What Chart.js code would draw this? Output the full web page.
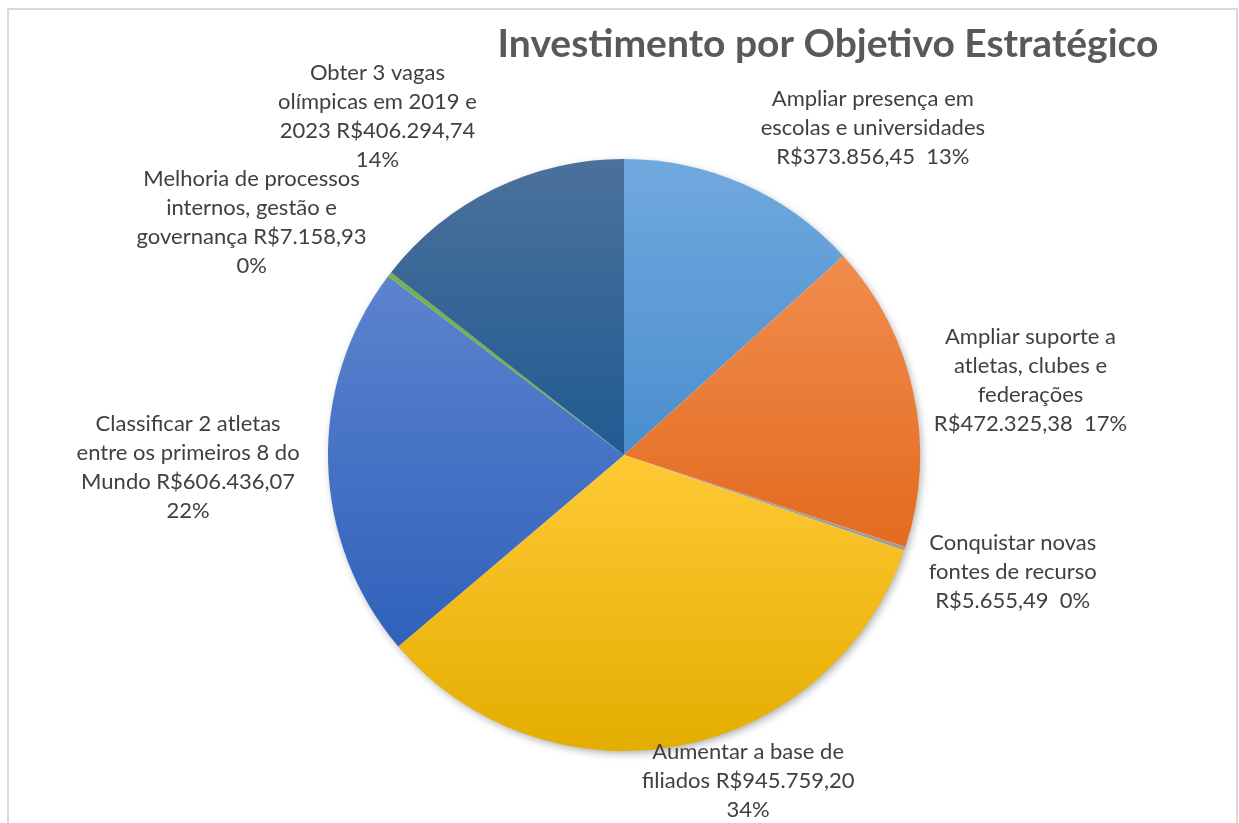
<!DOCTYPE html>
<html lang="pt-BR">
<head>
<meta charset="utf-8">
<title>Investimento por Objetivo Estratégico</title>
<script src="https://cdn.jsdelivr.net/npm/chart.js@4.4.1/dist/chart.umd.min.js"></script>
<style>
  html, body { margin: 0; padding: 0; background: #fff; }
  #wrap { width: 1239px; height: 823px; }
</style>
</head>
<body>
<div id="wrap"><canvas id="pieChart" width="1239" height="823"></canvas></div>
<script>
const chartTitle = "Investimento por Objetivo Estratégico";

const categories = [
  "Ampliar presença em escolas e universidades",
  "Ampliar suporte a atletas, clubes e federações",
  "Conquistar novas fontes de recurso",
  "Aumentar a base de filiados",
  "Classificar 2 atletas entre os primeiros 8 do Mundo",
  "Melhoria de processos internos, gestão e governança",
  "Obter 3 vagas olímpicas em 2019 e 2023",
];
const values = [373856.45, 472325.38, 5655.49, 945759.2, 606436.07, 7158.93, 406294.74];

// data label text, wrapped the way the original shows it
const labelLines = [
  ["Ampliar presença em", "escolas e universidades", "R$373.856,45  13%"],
  ["Ampliar suporte a", "atletas, clubes e", "federações", "R$472.325,38  17%"],
  ["Conquistar novas", "fontes de recurso", "R$5.655,49  0%"],
  ["Aumentar a base de", "filiados R$945.759,20", "34%"],
  ["Classificar 2 atletas", "entre os primeiros 8 do", "Mundo R$606.436,07", "22%"],
  ["Melhoria de processos", "internos, gestão e", "governança R$7.158,93", "0%"],
  ["Obter 3 vagas", "olímpicas em 2019 e", "2023 R$406.294,74", "14%"],
];

// gradient colours per slice: [stop, colour, stop, colour]
const sliceFills = [
  [0.0, "#70a9de", 0.5, "#4a8ecf"],
  [0.15, "#f18d50", 0.68, "#e2691b"],
  [0.5, "#a5a5a5", 0.7, "#9a9a9a"],
  [0.5, "#ffc935", 1.0, "#e4ad00"],
  [0.2, "#5c83ce", 0.83, "#2f61ba"],
  [0.3, "#76b24c", 0.5, "#6aa842"],
  [0.0, "#4b719b", 0.5, "#1f5b92"],
];

// where each label block sits, relative to the outer edge of its slice
const labelOffsets = [[129, -56], [117, -13], [108, 23], [69, 35], [-140, 4], [-138, -52], [-117, -72]];

const labelFont = "22px Lato";
const labelLineHeight = 29;

const sliceColor = (context) => {
  const chart = context.chart;
  const area = chart.chartArea;
  const f = sliceFills[context.dataIndex];
  if (!area) return f[1];
  const g = chart.ctx.createLinearGradient(0, area.top, 0, area.bottom);
  g.addColorStop(f[0], f[1]);
  g.addColorStop(f[2], f[3]);
  return g;
};

const framePlugin = {
  id: "frame",
  beforeDraw: (chart) => {
    const c = chart.ctx;
    c.save();
    c.fillStyle = "#ffffff";
    c.fillRect(0, 0, chart.width, chart.height);
    c.strokeStyle = "#d9d9d9";
    c.lineWidth = 2;
    c.strokeRect(8, 9, chart.width - 10, chart.height + 20);
    c.restore();
  },
};

const shadowPlugin = {
  id: "pieShadow",
  beforeDatasetsDraw: (chart) => {
    const arc = chart.getDatasetMeta(0).data[0];
    if (!arc) return;
    const c = chart.ctx;
    c.save();
    c.shadowColor = "rgba(0,0,0,0.35)";
    c.shadowBlur = 9;
    c.shadowOffsetX = 2;
    c.shadowOffsetY = 3;
    c.fillStyle = "#ffffff";
    c.beginPath();
    c.arc(arc.x, arc.y, arc.outerRadius - 1, 0, Math.PI * 2);
    c.fill();
    c.restore();
  },
};

const textPlugin = {
  id: "texts",
  afterDatasetsDraw: (chart) => {
    const c = chart.ctx;
    c.save();
    c.fillStyle = "#595959";
    c.font = "bold 39px Lato";
    c.textAlign = "center";
    c.textBaseline = "alphabetic";
    c.fillText(chartTitle, 828, 57);

    c.fillStyle = "#404040";
    c.font = labelFont;
    c.textBaseline = "middle";
    const meta = chart.getDatasetMeta(0);
    meta.data.forEach((arc, i) => {
      const mid = (arc.startAngle + arc.endAngle) / 2;
      const ex = arc.x + Math.cos(mid) * arc.outerRadius;
      const ey = arc.y + Math.sin(mid) * arc.outerRadius;
      const cx = ex + labelOffsets[i][0];
      const cy = ey + labelOffsets[i][1];
      const lines = labelLines[i];
      const y0 = cy - ((lines.length - 1) * labelLineHeight) / 2;
      lines.forEach((line, j) => {
        c.fillText(line, cx, y0 + j * labelLineHeight);
      });
    });
    c.restore();
  },
};

const ctx = document.getElementById("pieChart").getContext("2d");

const pieChart = new Chart(ctx, {
  type: "pie",
  data: {
    labels: categories,
    datasets: [
      {
        label: "Investimento",
        data: values,
        backgroundColor: sliceColor,
        borderWidth: 0,
      },
    ],
  },
  options: {
    responsive: false,
    animation: false,
    layout: {
      padding: { left: 328, right: 319, top: 159, bottom: 72 },
    },
    plugins: {
      legend: { display: false },
      tooltip: { enabled: false },
      title: { display: false },
    },
  },
  plugins: [framePlugin, shadowPlugin, textPlugin],
});
</script>
</body>
</html>
